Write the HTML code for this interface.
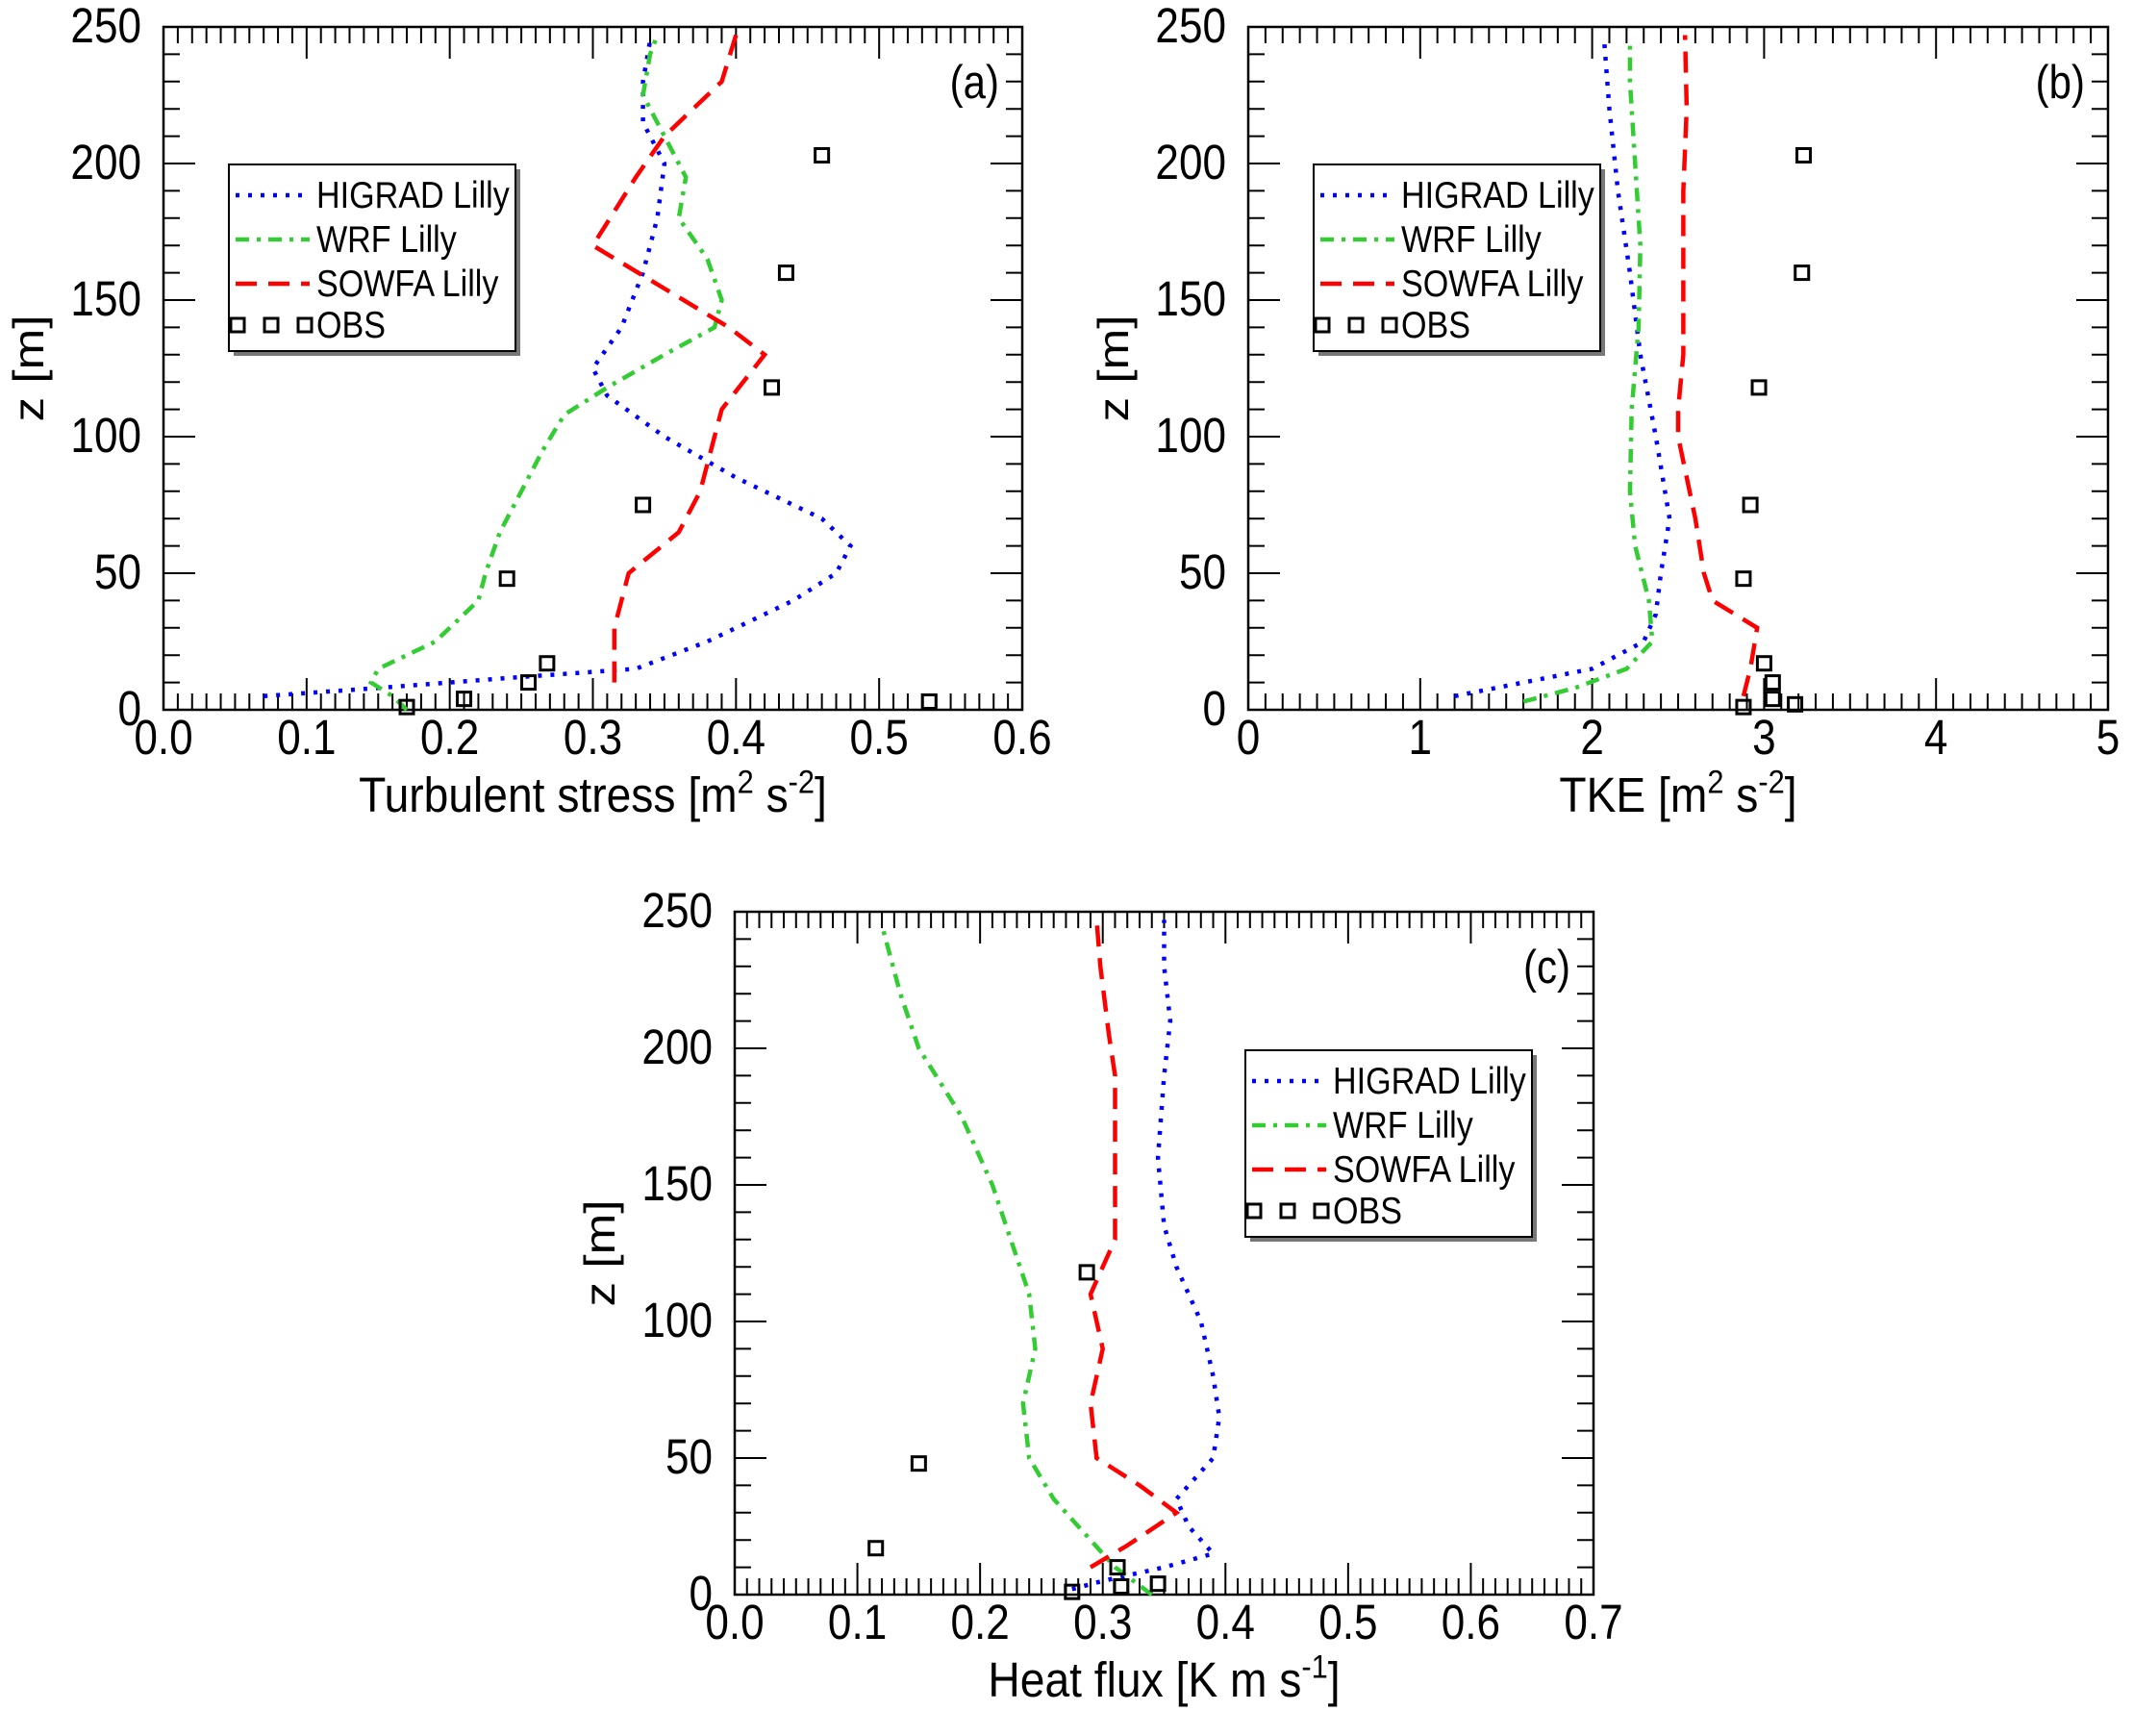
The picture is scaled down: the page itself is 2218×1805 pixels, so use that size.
<!DOCTYPE html>
<html><head><meta charset="utf-8"><style>
body{margin:0;background:#fff}
svg text{font-family:"Liberation Sans",Arial,sans-serif;fill:#000}
</style></head><body>
<svg id="fig" width="2218" height="1800" viewBox="0 0 2218 1800" xmlns="http://www.w3.org/2000/svg"></svg>
<script>
// ---- Panel (a) data: turbulent stress ----
const aHigradX=[0.07,0.15,0.25,0.33,0.38,0.44,0.47,0.48,0.46,0.40,0.35,0.31,0.30,0.32,0.335,0.345,0.35,0.335,0.335,0.34];
const aHigradZ=[5,8,12,15,25,40,50,60,70,85,100,115,125,140,160,180,200,215,230,245];
const aWrfX=[0.17,0.16,0.145,0.15,0.19,0.22,0.225,0.235,0.25,0.265,0.28,0.31,0.35,0.385,0.39,0.38,0.36,0.365,0.35,0.335,0.34,0.345];
const aWrfZ=[0,5,10,15,25,40,50,65,80,95,108,118,130,140,150,165,180,195,210,225,240,247];
const aSowfaX=[0.315,0.315,0.325,0.36,0.375,0.385,0.39,0.42,0.395,0.30,0.33,0.35,0.39,0.40];
const aSowfaZ=[10,30,50,65,80,100,110,130,140,170,195,210,230,247];
const aObsX=[0.17,0.21,0.255,0.268,0.24,0.335,0.425,0.435,0.46,0.535];
const aObsZ=[1,4,10,17,48,75,118,160,203,3];
const aTicks=["0.0","0.1","0.2","0.3","0.4","0.5","0.6"];
// ---- Panel (b) data: TKE ----
const bHigradX=[1.2,1.6,2.0,2.3,2.37,2.4,2.45,2.37,2.28,2.22,2.15,2.1,2.07];
const bHigradZ=[5,10,15,25,35,50,70,100,130,160,190,220,245];
const bWrfX=[1.6,1.9,2.2,2.35,2.33,2.25,2.22,2.23,2.27,2.28,2.25,2.22,2.22];
const bWrfZ=[3,8,15,25,40,60,80,110,140,170,200,230,245];
const bSowfaX=[2.88,2.92,2.96,2.7,2.65,2.6,2.5,2.5,2.53,2.53,2.53,2.55,2.54];
const bSowfaZ=[5,15,30,40,50,70,100,110,130,160,190,220,247];
const bObsX=[2.88,3.0,3.05,3.05,3.18,2.88,2.92,2.97,3.22,3.23];
const bObsZ=[1,17,10,4,2,48,75,118,160,203];
const bTicks=["0","1","2","3","4","5"];
// ---- Panel (c) data: heat flux ----
const cHigradX=[0.275,0.30,0.35,0.39,0.37,0.36,0.39,0.395,0.39,0.38,0.36,0.35,0.345,0.35,0.355,0.35,0.35];
const cHigradZ=[2,5,10,15,25,35,50,65,80,100,120,135,160,190,210,230,247];
const cWrfX=[0.34,0.31,0.29,0.26,0.24,0.235,0.245,0.24,0.225,0.21,0.185,0.15,0.135,0.12];
const cWrfZ=[0,10,20,35,50,70,90,110,130,150,175,200,220,245];
const cSowfaX=[0.29,0.32,0.36,0.33,0.295,0.29,0.30,0.29,0.305,0.31,0.31,0.31,0.31,0.305,0.298,0.295];
const cSowfaZ=[10,18,30,40,50,70,90,110,125,130,150,175,190,205,230,247];
const cObsX=[0.275,0.315,0.312,0.345,0.115,0.15,0.287];
const cObsZ=[1,3,10,4,17,48,118];
const cTicks=["0.0","0.1","0.2","0.3","0.4","0.5","0.6","0.7"];
const zTicks=["0","50","100","150","200","250"];

const NS="http://www.w3.org/2000/svg";
const svg=document.getElementById('fig');
function mk(tag,attrs,parent){const e=document.createElementNS(NS,tag);for(const k in attrs)e.setAttribute(k,attrs[k]);(parent||svg).appendChild(e);return e;}
function txt(x,y,size,anchor,parent,sxf,syf,rot){
  let tr=`translate(${x},${y})`+(rot?` rotate(${rot})`:'')+` scale(${sxf||1.05},${syf||1.22})`;
  return mk('text',{x:0,y:0,'font-size':size,'text-anchor':anchor,transform:tr},parent);
}

function panel(o){
  const g=mk('g',{});
  
  
  const L=o.L,R=o.R,T=o.T,B=o.B;
  const sx=v=>L+(v-o.xmin)/(o.xmax-o.xmin)*(R-L);
  const sy=z=>B-z/250*(B-T);
  const nx=Math.round((o.xmax-o.xmin)/o.minor);
  for(let i=0;i<=nx;i++){
    const x=L+i*(R-L)/nx;const major=(i%o.per===0);const len=major?33:17;
    const t1=mk('line',{x1:x,y1:B,x2:x,y2:B-len,stroke:'#000','stroke-width':2},g);
    
    
    const t2=mk('line',{x1:x,y1:T,x2:x,y2:T+len,stroke:'#000','stroke-width':2},g);
    
    
  }
  o.ticks.forEach((s,i)=>{
    const x=L+i*(R-L)/(o.ticks.length-1);
    const t=txt(x,B+46,42,'middle',g);t.textContent=s;
    
    
  });
  for(let z=0;z<=250;z+=10){
    const y=sy(z);const len=(z%50===0)?33:17;
    const t1=mk('line',{x1:L,y1:y,x2:L+len,y2:y,stroke:'#000','stroke-width':2},g);
    
    
    const t2=mk('line',{x1:R,y1:y,x2:R-len,y2:y,stroke:'#000','stroke-width':2},g);
    
    
  }
  zTicks.forEach(s=>{
    const y=sy(+s);
    const t=txt(L-23,y+16,42,'end',g);t.textContent=s;
    
    
  });
  const frame=mk('rect',{x:L,y:T,width:R-L,height:B-T,fill:'none',stroke:'#000','stroke-width':2.5},g);
  
  
  const yt=txt(L-125,(T+B)/2,42,'middle',g,1.22,1.05,-90);
  yt.textContent='z [m]';
  
  
  const xt=txt((L+R)/2,B+106,42,'middle',g,1.1,1.22);
  xt.innerHTML=o.title;
  
  
  const pl=txt(R-24,T+74,40,'end',g);pl.textContent=o.label;
  
  
  const styles=[
    {c:'#0000ff',d:'4 9',n:'higrad-line'},
    {c:'#33cc33',d:'14 8 4 8',n:'wrf-line'},
    {c:'#ff0000',d:'22 12',n:'sowfa-line'}];
  o.series.forEach((s,k)=>{
    const pts=s[0].map((v,i)=>sx(v).toFixed(1)+','+sy(s[1][i]).toFixed(1)).join(' ');
    const p=mk('polyline',{points:pts,fill:'none',stroke:styles[k].c,'stroke-width':4.5,'stroke-dasharray':styles[k].d},g);
    
    
  });
  o.obs[0].forEach((v,i)=>{
    const r=mk('rect',{x:sx(v)-7,y:sy(o.obs[1][i])-7,width:14,height:14,fill:'none',stroke:'#000','stroke-width':3},g);
    
    
  });
  const lx=o.lx,ly=o.ly;
  const lg=mk('g',{},g);
  
  
  mk('rect',{x:lx+5,y:ly+5,width:298,height:194,fill:'#777'},lg);
  mk('rect',{x:lx,y:ly,width:298,height:194,fill:'#fff',stroke:'#000','stroke-width':2},lg);
  const names=['HIGRAD Lilly','WRF Lilly','SOWFA Lilly'];
  const rows=[32,78,124,167];
  names.forEach((n,k)=>{
    const ln=mk('line',{x1:lx+7,y1:ly+rows[k],x2:lx+84,y2:ly+rows[k],stroke:styles[k].c,'stroke-width':4.5,'stroke-dasharray':styles[k].d},lg);
    
    
    const t=txt(lx+91,ly+rows[k]+13,31,'start',lg,1.1,1.25);t.textContent=n;
    
    
  });
  [8,43,78].forEach(dx=>{mk('rect',{x:lx+dx-6,y:ly+rows[3]-7,width:14,height:14,fill:'none',stroke:'#000','stroke-width':3},lg);});
  const ot=txt(lx+91,ly+rows[3]+13,31,'start',lg,1.1,1.25);ot.textContent='OBS';
  
  
}

panel({name:'panel-a',L:170,R:1063,T:28,B:738,xmin:0,xmax:0.6,minor:0.01,per:10,ticks:aTicks,label:'(a)',
  title:'Turbulent stress  [m<tspan dy="-16" font-size="28">2</tspan><tspan dy="16"> s</tspan><tspan dy="-16" font-size="28">-2</tspan><tspan dy="16">]</tspan>',
  series:[[aHigradX,aHigradZ],[aWrfX,aWrfZ],[aSowfaX,aSowfaZ]],obs:[aObsX,aObsZ],lx:238,ly:171});
panel({name:'panel-b',L:1298,R:2192,T:28,B:738,xmin:0,xmax:5,minor:0.1,per:10,ticks:bTicks,label:'(b)',
  title:'TKE  [m<tspan dy="-16" font-size="28">2</tspan><tspan dy="16"> s</tspan><tspan dy="-16" font-size="28">-2</tspan><tspan dy="16">]</tspan>',
  series:[[bHigradX,bHigradZ],[bWrfX,bWrfZ],[bSowfaX,bSowfaZ]],obs:[bObsX,bObsZ],lx:1366,ly:171});
panel({name:'panel-c',L:764,R:1657,T:948,B:1658,xmin:0,xmax:0.7,minor:0.01,per:10,ticks:cTicks,label:'(c)',
  title:'Heat flux [K m s<tspan dy="-16" font-size="28">-1</tspan><tspan dy="16">]</tspan>',
  series:[[cHigradX,cHigradZ],[cWrfX,cWrfZ],[cSowfaX,cSowfaZ]],obs:[cObsX,cObsZ],lx:1295,ly:1092});
</script>
</body></html>
